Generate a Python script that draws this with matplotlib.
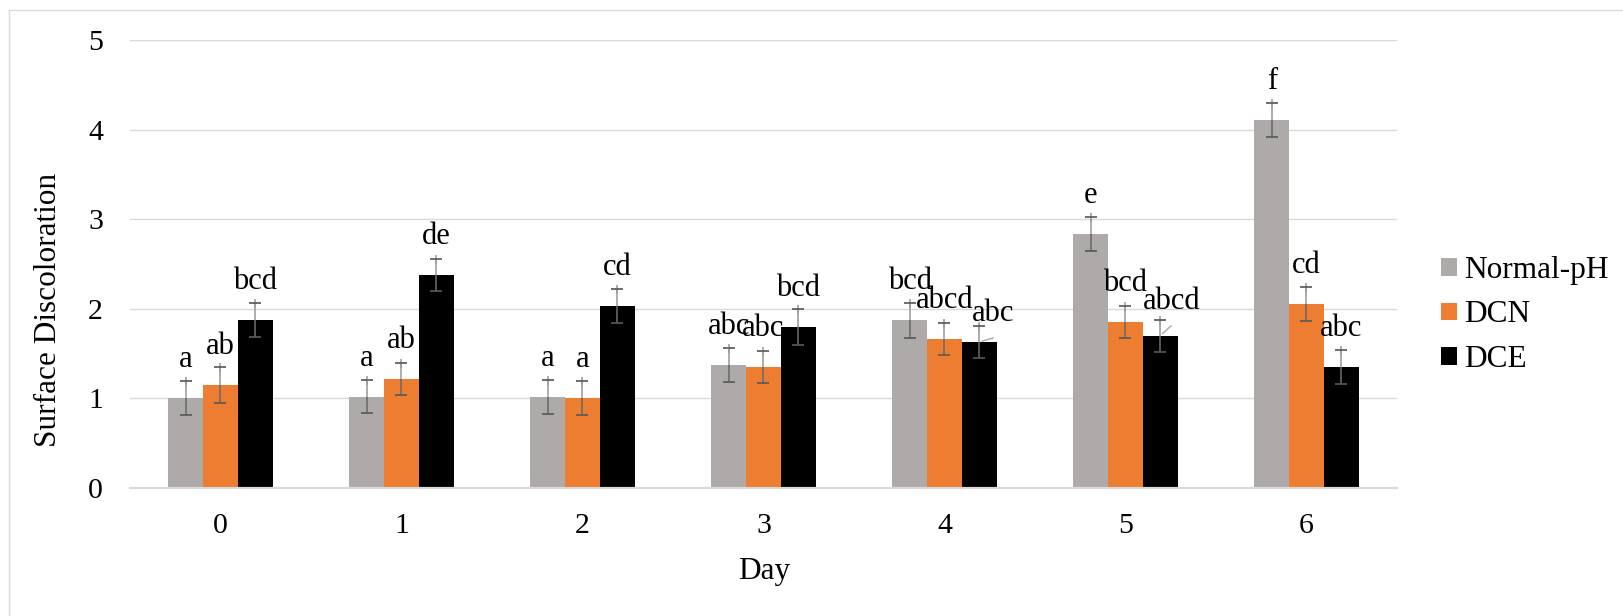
import matplotlib
matplotlib.use("Agg")
import matplotlib.pyplot as plt
import numpy as np
from matplotlib.patches import Patch, Rectangle

plt.rcParams["font.family"] = ["Liberation Serif", "DejaVu Serif"]

# ---- data -------------------------------------------------------------
days = ["0", "1", "2", "3", "4", "5", "6"]
series = ["Normal-pH", "DCN", "DCE"]

normal_ph = [1.00, 1.02, 1.02, 1.37, 1.87, 2.83, 4.11]
dcn = [1.15, 1.22, 1.00, 1.35, 1.66, 1.85, 2.05]
dce = [1.87, 2.38, 2.03, 1.80, 1.63, 1.70, 1.35]

normal_ph_err = [0.19, 0.18, 0.19, 0.19, 0.20, 0.19, 0.19]
dcn_err = [0.20, 0.18, 0.19, 0.18, 0.18, 0.18, 0.19]
dce_err = [0.19, 0.18, 0.19, 0.20, 0.18, 0.18, 0.19]

normal_ph_letters = ["a", "a", "a", "abc", "bcd", "e", "f"]
dcn_letters = ["ab", "ab", "a", "abc", "abcd", "bcd", "cd"]
dce_letters = ["bcd", "de", "cd", "bcd", "abc", "abcd", "abc"]

colors = ["#AEAAAA", "#ED7D31", "#000000"]

# ---- figure -----------------------------------------------------------
W, H, DPI = 1624, 616, 100
fig = plt.figure(figsize=(W / DPI, H / DPI), dpi=DPI)
ax = fig.add_axes([130 / W, (H - 488) / H, (1397 - 130) / W, (488 - 40) / H])

x = np.arange(len(days))
bw = 0.192
offsets = [-bw, 0.0, bw]
values = [normal_ph, dcn, dce]
errors = [normal_ph_err, dcn_err, dce_err]
letters = [normal_ph_letters, dcn_letters, dce_letters]

px = 72 / DPI  # points per pixel

for s in range(3):
    xs = x + offsets[s]
    ax.bar(xs, values[s], width=bw, color=colors[s], zorder=2, linewidth=0)
    v = np.array(values[s])
    e = np.array(errors[s])
    for xi, vi, ei in zip(xs, v, e):
        # upper whisker (light) and lower whisker (darker)
        ax.plot([xi, xi], [vi, vi + ei], color="#9C9C9C", lw=1.6 * px, zorder=3,
                solid_capstyle="butt")
        ax.plot([xi], [vi + ei], marker="|", ms=9 * px, mew=1.6 * px,
                color="#9C9C9C", zorder=3)
        ax.plot([xi, xi], [vi - ei, vi], color="#6A6A6A", lw=1.6 * px, zorder=3,
                solid_capstyle="butt")
        ax.plot([xi, xi], [vi - ei, vi + ei], ls="none", marker="_",
                ms=12 * px, mew=1.7 * px, color="#595959", zorder=4)

# letter labels above each bar; a couple are nudged with leader lines
nudged = {(2, 4): (14, 21), (2, 5): (11, 27)}
for s in range(3):
    for i in range(len(days)):
        xi = x[i] + offsets[s]
        vi = values[s][i]
        dx, dy = nudged.get((s, i), (0, 31))
        ax.annotate(letters[s][i], xy=(xi, vi), xytext=(dx, dy),
                    textcoords="offset pixels", ha="center", va="baseline",
                    fontsize=22, color="black", zorder=5)
        if (s, i) in nudged:
            ax.annotate("", xy=(xi, vi), xytext=(dx, dy - 17),
                        textcoords="offset pixels",
                        arrowprops=dict(arrowstyle="-", color="#A6A6A6",
                                        lw=1.4 * px, shrinkA=0, shrinkB=2),
                        zorder=4)

ax.set_xlim(-0.5, len(days) - 0.5)
ax.set_ylim(0, 5)
ax.set_yticks([0, 1, 2, 3, 4, 5])
ax.set_xticks(x)
ax.set_xticklabels(days)
ax.yaxis.grid(True, color="#D9D9D9", lw=1.4 * px, zorder=0)
ax.set_axisbelow(True)
for side in ["top", "right", "left"]:
    ax.spines[side].set_visible(False)
ax.spines["bottom"].set_color("#D9D9D9")
ax.spines["bottom"].set_linewidth(2.2 * px)
ax.tick_params(axis="both", length=0, labelsize=21.5)
ax.tick_params(axis="y", pad=27 * px)
ax.tick_params(axis="x", pad=18)

fig.text(764 / W, (H - 572) / H, "Day", ha="center", va="center", fontsize=22.5)
fig.text(49 / W, (H - 310) / H, "Surface Discoloration", ha="center",
         va="center", rotation=90, fontsize=22.5)

handles = [Patch(facecolor=c, edgecolor="none") for c in colors]
ax.legend(handles, series, loc="center left",
          bbox_to_anchor=(1441 / W, (H - 315) / H),
          bbox_transform=fig.transFigure, frameon=False, fontsize=22.5,
          handlelength=0.5, handleheight=0.5, handletextpad=0.25,
          labelspacing=0.5, borderpad=0, borderaxespad=0)

# outer chart frame
fig.add_artist(Rectangle((9 / W, -0.1), 2.0, (H - 10) / H + 0.1,
                         transform=fig.transFigure, fill=False,
                         edgecolor="#D9D9D9", lw=1.4 * px, clip_on=False))

fig.savefig("out.png", dpi=DPI, facecolor="white")
